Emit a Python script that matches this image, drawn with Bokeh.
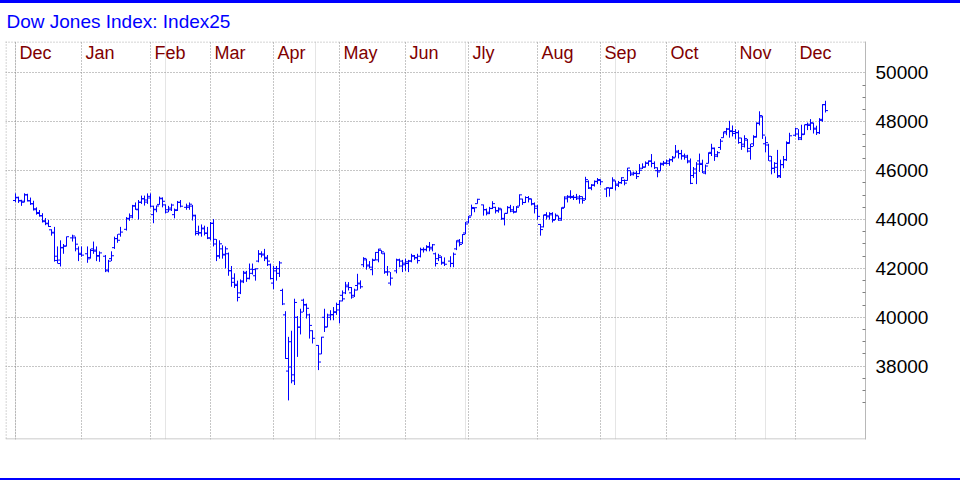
import numpy as np
import pandas as pd
from bokeh.plotting import figure
from bokeh.layouts import column
from bokeh.models import (ColumnDataSource, Range1d, FixedTicker, Grid, Span, Div)
from bokeh.core.properties import value
from bokeh.embed import file_html
from bokeh.resources import INLINE

# ---------------- data ----------------
title_text = "Dow Jones Index: Index25"
first_day = "2024-11-29"
last_day = "2025-12-12"
holidays = ["2024-12-25", "2025-01-01", "2025-01-09", "2025-01-20", "2025-02-17",
            "2025-04-18", "2025-05-26", "2025-06-19", "2025-07-04", "2025-09-01",
            "2025-11-27"]
month_labels = ["Dec", "Jan", "Feb", "Mar", "Apr", "May", "Jun", "Jly", "Aug",
                "Sep", "Oct", "Nov", "Dec"]
month_starts = ["2024-12-01", "2025-01-01", "2025-02-01", "2025-03-01", "2025-04-01",
                "2025-05-01", "2025-06-01", "2025-07-01", "2025-08-01", "2025-09-01",
                "2025-10-01", "2025-11-01", "2025-12-01"]
y_major_ticks = [38000, 40000, 42000, 44000, 46000, 48000, 50000]
y_minor_ticks = [36500, 37000, 37500, 38500, 39000, 39500, 40500, 41000, 41500,
                 42500, 43000, 43500, 44500, 45000, 45500, 46500, 47000, 47500,
                 48500, 49000, 49500]

opens = [
    44780,
    44890, 44760, 44750, 45010, 44770, 44650, 44440, 44290, 44160, 43950, 43850,
    43580, 43480, 42500, 42200, 42860, 42920, 43250, 43250, 42800, 42620,
    42600, 42450, 42800, 42750, 42500, 42500, 41900, 42400, 42850, 43220, 43400,
    43600, 44050, 44100, 44550, 44400, 44700, 44850, 44800, 44950,
    44200, 44400, 44620, 44850, 44600, 44400, 44400, 44200, 44400, 44700, 44500,
    44500, 44550, 44150, 43500, 43450, 43650, 43450, 43250,
    43850, 43000, 42500, 42800, 42550, 42600, 41900, 41600, 41300, 41000, 41450,
    41800, 41600, 41800, 41700, 42300, 42600, 42550, 42400, 42150, 41400,
    41900, 41800, 41100, 40100, 37800, 39000, 37400, 40000, 39600, 40700, 40500,
    40100, 39450, 38850, 38500, 40000, 39600, 40000, 40100, 40200, 40300,
    40900, 41000, 41250, 41000, 40900, 41300, 41400, 42150, 42350, 42100, 41950,
    42350, 42350, 42740, 42600, 41850, 41400, 41900, 42350, 42300, 42150,
    42200, 42300, 42500, 42450, 42500, 42780, 42780, 42900, 42800, 42600, 42400,
    42450, 42250, 42300, 42200, 42800, 43150, 43050, 43450, 43900,
    44150, 44450, 44650, 44600, 44400, 44300, 44450, 44500, 44350, 44400, 44050,
    44250, 44500, 44400, 44300, 44550, 44840, 44700, 44900, 44850, 44650, 44550,
    43800, 43700, 44200, 44150, 44250, 44000, 44150, 44050, 44500, 44850, 44950,
    44900, 44900, 44850, 44850, 44850, 45550, 45300, 45400, 45550, 45600,
    45250, 45300, 45300, 45580, 45450, 45500, 45600, 45600, 46000, 45900, 45900,
    45880, 46100, 46150, 46300, 46400, 46300, 46000, 46000, 46300, 46300,
    46300, 46450, 46550, 46800, 46700, 46600, 46550, 46400, 45800, 45900, 46400,
    46300, 45900, 46300, 46750, 46900, 46650, 46950, 47350, 47600, 47700, 47600,
    47600,
    47550, 47150, 47000, 47250, 46800, 47100, 47400, 47950, 48200, 47100, 47050,
    46400, 46100, 46300, 45800, 46250, 46450, 47150, 47450,
    47500, 47350, 47500, 47880, 47900, 47950, 47700, 47550, 48100, 48700,
]
highs = [
    45070,
    44940, 44810, 45074, 45055, 44900, 44770, 44500, 44390, 44260, 44060, 43980,
    43600, 43700, 42900, 43150, 43000, 43300, 43380, 43300, 42900, 42900,
    42900, 42800, 43100, 42900, 42700, 42550, 42350, 42700, 43300, 43400, 43700,
    44100, 44250, 44600, 44700, 44800, 44980, 44980, 45070, 45070,
    44570, 44570, 44940, 44910, 44620, 44560, 44650, 44450, 44760, 44800, 44650,
    44700, 44600, 44200, 43750, 43800, 43750, 43700, 43900,
    44020, 43200, 43150, 42950, 42900, 42650, 42100, 41800, 41500, 41550, 41900,
    41900, 42200, 42200, 42000, 42750, 42700, 42800, 42550, 42200, 42100,
    42100, 42300, 41170, 40250, 39200, 39450, 40760, 40050, 40350, 40760, 40560,
    40150, 39470, 38860, 39200, 40350, 40150, 40290, 40420, 40600, 40700,
    41100, 41450, 41440, 41240, 41170, 41780, 41510, 42460, 42400, 42300, 42400,
    42670, 42800, 42740, 42650, 42100, 41850, 42400, 42400, 42350, 42400,
    42350, 42600, 42550, 42600, 42850, 42860, 42950, 43080, 43000, 42650, 42600,
    42500, 42450, 42500, 42650, 43150, 43200, 43400, 43900, 44150,
    44610, 44500, 44850, 44610, 44450, 44520, 44750, 44520, 44500, 44450, 44250,
    44550, 44600, 44550, 44550, 45030, 44850, 44950, 44960, 44850, 44700, 44600,
    43820, 44200, 44300, 44300, 44300, 44250, 44150, 44500, 44950, 45000, 45200,
    45000, 45050, 45000, 44950, 45750, 45600, 45450, 45600, 45700, 45650,
    45320, 45300, 45730, 45590, 45580, 45730, 45640, 46110, 46000, 45960, 45990,
    46270, 46300, 46380, 46420, 46680, 46380, 46140, 46330, 46400, 46450,
    46500, 46600, 47050, 46850, 46850, 46700, 46650, 46500, 46150, 46350, 46700,
    46450, 46250, 46750, 47100, 46950, 46800, 47300, 47600, 47750, 48040, 47850,
    47700,
    47650, 47350, 47450, 47300, 47100, 47450, 47980, 48430, 48250, 47400, 47100,
    46600, 46350, 46850, 46450, 46600, 47200, 47550, 47750,
    47700, 47880, 47880, 47970, 48110, 47960, 47840, 48150, 48720, 48860,
]
lows = [
    44710,
    44680, 44560, 44700, 44740, 44600, 44370, 44200, 44120, 43880, 43770, 43700,
    43340, 42280, 42200, 42080, 42600, 42900, 43100, 42700, 42300, 42480,
    42230, 42400, 42600, 42300, 42270, 41850, 41840, 42300, 42800, 43050, 43300,
    43550, 43950, 44050, 44400, 44000, 44640, 44570, 44640, 44500,
    43850, 44300, 44610, 44500, 44250, 44300, 44350, 44050, 44350, 44500, 44400,
    44400, 43960, 43350, 43350, 43300, 43350, 43200, 43150,
    42900, 42300, 42400, 42400, 42000, 41700, 41250, 41200, 40650, 40950, 41400,
    41450, 41550, 41750, 41500, 42250, 42450, 42300, 42100, 41550, 41150,
    41500, 41650, 40500, 38300, 36600, 37300, 37230, 38380, 39300, 40220, 39950,
    39130, 38930, 37840, 38500, 39400, 39600, 39880, 39880, 40100, 39750,
    40650, 40950, 41100, 40760, 40830, 41100, 41170, 42050, 41950, 42000, 41720,
    42330, 42250, 42600, 41780, 41700, 41300, 41800, 42050, 41850, 41900,
    41850, 42250, 42350, 42200, 42450, 42650, 42700, 42700, 42700, 42080, 42300,
    42150, 42100, 42050, 42050, 42750, 42900, 43000, 43400, 43850,
    44160, 44300, 44650, 44160, 44170, 44220, 44430, 44250, 44280, 43990, 43760,
    44250, 44300, 44250, 44300, 44550, 44600, 44680, 44700, 44580, 44250, 43990,
    43340, 43680, 44000, 44000, 43880, 43980, 43950, 43950, 44480, 44700, 44850,
    44800, 44800, 44650, 44650, 44800, 45250, 45200, 45350, 45450, 45400,
    44920, 44940, 45250, 45190, 45330, 45460, 45400, 45590, 45780, 45800, 45660,
    45860, 46070, 46130, 46200, 46140, 46070, 45730, 45980, 46200, 46250,
    46200, 46350, 46550, 46500, 46450, 46450, 46300, 45450, 45700, 45450, 45950,
    45900, 45850, 46300, 46600, 46400, 46550, 46850, 47350, 47450, 47350, 47400,
    47300,
    47100, 46850, 46950, 46750, 46450, 47000, 47350, 47850, 47300, 46750, 46400,
    45850, 45900, 45700, 45700, 46100, 46400, 47100, 47400,
    47250, 47250, 47470, 47660, 47660, 47520, 47460, 47500, 48000, 48380,
]
closes = [
    44910,
    44782, 44706, 45014, 44766, 44643, 44402, 44248, 44149, 43914, 43828, 43717,
    43450, 42327, 42342, 42840, 42907, 43297, 43326, 42992, 42574, 42544,
    42392, 42732, 42707, 42528, 42635, 41938, 42297, 42518, 43222, 43153, 43488,
    44026, 44157, 44565, 44424, 44714, 44850, 44714, 44882, 44545,
    44422, 44556, 44873, 44748, 44303, 44470, 44594, 44369, 44711, 44546, 44556,
    44628, 44177, 43428, 43461, 43621, 43433, 43240, 43841,
    43191, 42521, 43007, 42579, 42802, 41912, 41433, 41351, 40814, 41488, 41842,
    41581, 41965, 41953, 41985, 42583, 42588, 42455, 42300, 41584, 42002,
    41990, 42225, 40546, 38315, 37966, 37646, 40608, 39594, 40213, 40525, 40369,
    39669, 39142, 38170, 39187, 39607, 40093, 40114, 40228, 40528, 40669,
    40753, 41317, 41219, 40829, 41114, 41368, 41249, 42410, 42140, 42051, 42323,
    42655, 42792, 42677, 41860, 41859, 41603, 42344, 42099, 42216, 42270,
    42305, 42520, 42428, 42320, 42763, 42762, 42867, 42866, 42968, 42198, 42515,
    42216, 42172, 42207, 42582, 43089, 42982, 43387, 43819, 44095,
    44495, 44484, 44829, 44406, 44241, 44458, 44651, 44372, 44460, 44023, 44255,
    44484, 44342, 44323, 44502, 45010, 44694, 44902, 44838, 44633, 44461, 44131,
    43589, 44174, 44112, 44193, 43969, 44176, 43975, 44459, 44922, 44912, 44946,
    44912, 44922, 44938, 44786, 45632, 45282, 45418, 45565, 45637, 45545,
    45296, 45271, 45621, 45401, 45515, 45711, 45491, 46108, 45834, 45883, 45758,
    46018, 46142, 46315, 46382, 46293, 46121, 45947, 46247, 46316, 46398,
    46441, 46520, 46758, 46695, 46603, 46602, 46358, 45480, 46068, 46270, 46253,
    45952, 46191, 46707, 46925, 46590, 46735, 47207, 47545, 47706, 47632, 47522,
    47563,
    47337, 47085, 47311, 46912, 46987, 47369, 47928, 48255, 47457, 47147, 46590,
    46092, 46139, 45752, 46245, 46448, 47112, 47427, 47716,
    47289, 47474, 47883, 47851, 47955, 47739, 47560, 48058, 48704, 48458,
]

# ---------------- positions on a weekday axis ----------------
weekdays = pd.bdate_range(first_day, last_day)
hol = set(pd.to_datetime(holidays))
wd_index = {d: i for i, d in enumerate(weekdays)}
trade_days = [d for d in weekdays if d not in hol]
xi = np.array([wd_index[d] for d in trade_days], dtype=float)
assert len(xi) == len(closes) == len(opens) == len(highs) == len(lows)

month_x = []
for ms in month_starts:
    first_wd = pd.bdate_range(ms, periods=1)[0]
    month_x.append(wd_index[first_wd] - 1)

tick = 2.5 / 3.0
src = ColumnDataSource(dict(
    x=xi, o=opens, h=highs, l=lows, c=closes,
    xl=xi - tick, xr=xi + tick,
))

FONT = "Liberation Sans"
BLUE = "#0000ff"
GRID = "#8c8c8c"
EDGE = "#b8b8b8"

FIG_W, FIG_H = 960, 475
B_LEFT, B_RIGHT, B_TOP = 5, 95, 37
FRAME_W, FRAME_H = FIG_W - B_LEFT - B_RIGHT, 399
B_BOTTOM = FIG_H - B_TOP - FRAME_H

x_start = -3.5 + 0.5 / 3.0
x_end = x_start + FRAME_W / 3.0
units_px = 12000 / 294.0
y_start = 35000.0
y_end = y_start + FRAME_H * units_px

p = figure(width=FIG_W, height=FIG_H,
           x_range=Range1d(x_start, x_end), y_range=Range1d(y_start, y_end),
           x_axis_location=None, y_axis_location="right",
           toolbar_location=None, output_backend="svg",
           min_border_left=B_LEFT, min_border_right=B_RIGHT, min_border_top=B_TOP,
           min_border_bottom=B_BOTTOM, outline_line_color=None,
           background_fill_color="white", border_fill_color="white")

p.title.text = title_text
p.title.text_font = FONT
p.title.text_font_size = "19px"
p.title.text_font_style = "normal"
p.title.text_color = BLUE
p.title.align = "left"
p.title.vertical_align = "top"
p.title.standoff = 15
p.title.offset = 1

ax = p.yaxis[0]
ax.ticker = FixedTicker(ticks=y_major_ticks, minor_ticks=y_minor_ticks)
ax.major_tick_in = 0
ax.major_tick_out = 0
ax.minor_tick_in = 3
ax.minor_tick_out = 0
ax.minor_tick_line_color = "#808080"
ax.axis_line_color = EDGE
ax.axis_line_width = 1
ax.major_label_standoff = 10
ax.major_label_text_font = FONT
ax.major_label_text_font_size = "19px"
ax.major_label_text_color = "black"

p.ygrid.grid_line_color = GRID
p.ygrid.grid_line_dash = "1 2"
p.ygrid.grid_line_width = 1

vgrid = Grid(dimension=0, ticker=FixedTicker(ticks=month_x),
             grid_line_color=GRID, grid_line_dash="1 2", grid_line_width=1)
p.add_layout(vgrid)

# frame edges
p.add_layout(Span(location=y_end - 0.5 * units_px, dimension="width",
                  line_color=GRID, line_dash="1 2", line_width=1))
p.add_layout(Span(location=x_start + 0.5 / 3.0, dimension="height",
                  line_color=GRID, line_dash="1 2", line_width=1))
p.add_layout(Span(location=y_start + 0.5 * units_px, dimension="width",
                  line_color=EDGE, line_width=1))

# OHLC bars
p.segment(x0="x", y0="l", x1="x", y1="h", source=src, line_color=BLUE, line_width=1)
p.segment(x0="xl", y0="o", x1="x", y1="o", source=src, line_color=BLUE, line_width=1)
p.segment(x0="x", y0="c", x1="xr", y1="c", source=src, line_color=BLUE, line_width=1)

# month labels
msrc = ColumnDataSource(dict(x=month_x, y=[y_end] * len(month_x), t=month_labels))
p.text(x="x", y="y", text="t", source=msrc, x_offset=4, y_offset=11.3,
       text_font=value(FONT), text_font_size="18px", text_color="#800000",
       text_baseline="alphabetic", text_align="left")

top_rule = Div(text="", width=FIG_W, height=3, margin=0,
               styles={"background-color": BLUE})
bottom_rule = Div(text="", width=FIG_W, height=2, margin=0,
                  styles={"background-color": BLUE})

layout = column(top_rule, p, bottom_rule, spacing=0)

open("out.html", "w").write(file_html(layout, INLINE))
